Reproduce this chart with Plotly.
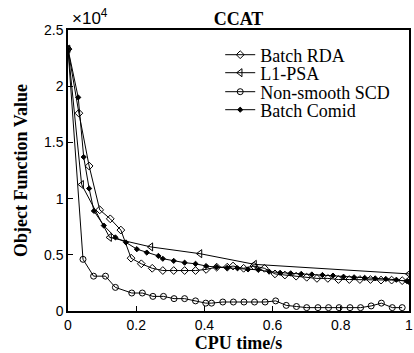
import plotly.graph_objects as go

# Values (y in raw units, axis shown as x10^4)
rda_x = [0, 0.032, 0.062, 0.093, 0.124, 0.155, 0.185, 0.215, 0.247, 0.278, 0.31, 0.342, 0.374,
         0.405, 0.436, 0.467, 0.484, 0.515, 0.545, 0.576, 0.607, 0.636, 0.669, 0.70, 0.73, 0.762,
         0.793, 0.825, 0.856, 0.887, 0.918, 0.949, 0.98, 1.0]
rda_y = [23300, 17600, 12900, 9000, 8200, 7200, 4700, 4200, 3800, 3600, 3600, 3600, 3600,
         3700, 3900, 3900, 4000, 3800, 4000, 3800, 3300, 3200, 3100, 3000, 2900, 2900,
         2800, 2800, 2800, 2800, 2750, 2750, 2700, 2700]

psa_x = [0, 0.04, 0.122, 0.243, 0.387, 0.547, 1.0]
psa_y = [23300, 11250, 6550, 5700, 5100, 4150, 3300]

scd_x = [0, 0.044, 0.075, 0.11, 0.139, 0.187, 0.218, 0.249, 0.28, 0.311, 0.342, 0.374, 0.404,
         0.421, 0.454, 0.485, 0.516, 0.547, 0.578, 0.609, 0.64, 0.67, 0.70, 0.733, 0.764, 0.795,
         0.827, 0.858, 0.889, 0.919, 0.951, 0.98]
scd_y = [23300, 4600, 3100, 3100, 2100, 1600, 1600, 1300, 1300, 1100, 1100, 900, 700,
         700, 800, 800, 800, 800, 800, 900, 500, 400, 300, 300, 300, 300,
         300, 300, 450, 700, 300, 300]

comid_x = [0, 0.03, 0.046, 0.062, 0.076, 0.105, 0.139, 0.17, 0.202, 0.231, 0.265, 0.278, 0.31,
           0.342, 0.374, 0.405, 0.436, 0.467, 0.497, 0.528, 0.558, 0.59, 0.622, 0.653, 0.684,
           0.715, 0.746, 0.777, 0.808, 0.839, 0.87, 0.901, 0.932, 0.963, 0.994, 1.0]
comid_y = [23300, 19000, 13700, 10900, 8900, 7600, 6550, 6100, 5500, 5200, 4900, 4650, 4460,
           4300, 4200, 4000, 3900, 3850, 3800, 3700, 3660, 3500, 3400, 3350, 3300,
           3250, 3200, 3150, 3050, 3000, 2950, 2900, 2850, 2780, 2650, 2620]

y_ticks = [0, 5000, 10000, 15000, 20000, 25000]
y_tick_labels = ["0", "0.5", "1", "1.5", "2", "2.5"]
x_ticks = [0, 0.2, 0.4, 0.6, 0.8, 1]
x_tick_labels = ["0", "0.2", "0.4", "0.6", "0.8", "1"]

serif = "Liberation Serif, Times New Roman, serif"
sans = "Liberation Sans, Arial, sans-serif"

fig = go.Figure()
series = [
    ("Batch RDA", rda_x, rda_y, "diamond-open", 6, "legend"),
    ("L1-PSA", psa_x, psa_y, "triangle-left-open", 7, "legend2"),
    ("Non-smooth SCD", scd_x, scd_y, "circle-open", 6, "legend3"),
    ("Batch Comid", comid_x, comid_y, "diamond", 4, "legend4"),
]
for name, xs, ys, sym, sz, lg in series:
    fig.add_trace(go.Scatter(
        x=xs, y=ys, name=name, mode="lines+markers", legend=lg,
        line=dict(color="black", width=1),
        marker=dict(symbol=sym, size=sz, color="black", line=dict(color="black", width=1)),
    ))

plot_top, plot_bottom = 30, 311
row_centers = [55, 73, 92, 110]
leg_common = dict(x=(222 - 68) / 345, xanchor="left", yanchor="middle",
                  font=dict(family=serif, size=18, color="black"),
                  bgcolor="rgba(0,0,0,0)", itemwidth=30)
legends = {}
for key, yc in zip(["legend", "legend2", "legend3", "legend4"], row_centers):
    legends[key] = dict(leg_common, y=(plot_bottom - yc) / (plot_bottom - plot_top))

fig.update_layout(
    width=414, height=353,
    margin=dict(l=68, r=1, t=30, b=42),
    paper_bgcolor="white", plot_bgcolor="white",
    showlegend=True,
    title=dict(text="<b>CCAT</b>", xref="paper", x=0.5, xanchor="center",
               y=1 - 19 / 353, yanchor="middle",
               font=dict(family=serif, size=18, color="black")),
    xaxis=dict(range=[0, 1], tickvals=x_ticks, ticktext=x_tick_labels,
               ticks="inside", ticklen=5, tickcolor="black", ticklabeloverflow="allow",
               showline=True, linecolor="black", linewidth=1.5, mirror=True,
               showgrid=False, zeroline=False,
               tickfont=dict(family=sans, size=14, color="black"),
               title=dict(text="<b>CPU time/s</b>", standoff=0,
                          font=dict(family=serif, size=18, color="black"))),
    yaxis=dict(range=[0, 25000], tickvals=y_ticks, ticktext=y_tick_labels,
               ticks="inside", ticklen=5, tickcolor="black",
               showline=True, linecolor="black", linewidth=1.5, mirror=True,
               showgrid=False, zeroline=False,
               tickfont=dict(family=sans, size=14, color="black"),
               title=dict(text="<b>Object Function Value</b>", standoff=12,
                          font=dict(family=serif, size=18, color="black"))),
    **legends,
)
fig.add_annotation(text="×10<sup>4</sup>", xref="paper", yref="paper", x=0.0, y=1.0,
                   xanchor="left", yanchor="bottom", showarrow=False,
                   font=dict(family=sans, size=17, color="black"), xshift=2, yshift=0)

fig.write_html("out.html")
